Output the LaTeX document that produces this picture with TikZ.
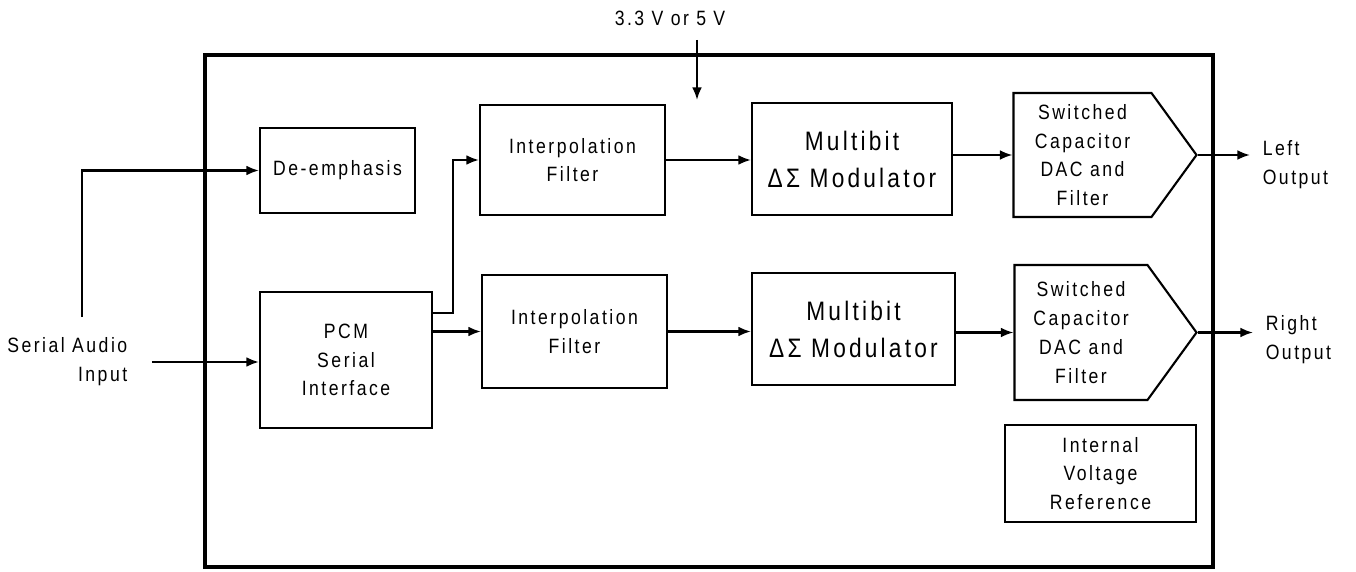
\documentclass[tikz,border=0pt]{standalone}
\usepackage{fontspec}
\setmainfont{Liberation Sans}[FakeStretch=0.85,LetterSpace=12]
\usetikzlibrary{arrows.meta,shapes.symbols}

\begin{document}
\begin{tikzpicture}[
    line width=0.6pt,
    font=\fontsize{5.9}{8.2}\selectfont,
    blockbox/.style={draw, align=center, inner sep=1pt},
    modbox/.style={blockbox, font=\fontsize{7.6}{10.5}\selectfont},
    dacbox/.style={draw, signal, signal to=east, signal pointer angle=108, align=center, inner sep=1pt},
    sig/.style={-{Latex[length=3.6pt,width=2.8pt]}}
]

    % Canvas
    \useasboundingbox (0,0) rectangle (13.56,5.71);

    % Chip Outline
    \draw[line width=0.9pt] (2.05,0.04) rectangle (12.13,5.16);

    % Supply
    \node (supply) at (6.70,5.53) {3.3 V or 5 V};
    \coordinate (vddtop) at (6.97,5.31);
    \coordinate (vddend) at (6.97,4.71);
    \draw[sig] (vddtop) -- (vddend);

    % Left Channel
    \node[blockbox, minimum width=1.55cm, minimum height=0.85cm] (deemph) at (3.375,4.005) {De-emphasis};
    \node[blockbox, minimum width=1.85cm, minimum height=1.10cm] (interpL) at (5.725,4.11) {Interpolation\\Filter};
    \node[modbox, minimum width=2.00cm, minimum height=1.12cm] (modL) at (8.52,4.12) {Multibit\\ΔΣ Modulator};
    \node[dacbox, minimum width=1.83cm, minimum height=1.24cm] (dacL) at (10.825,4.16) {Switched\\Capacitor\\DAC and\\Filter};
    \node[anchor=west, align=left] (outL) at (12.50,4.06) {Left\\Output};

    % Right Channel
    \node[blockbox, minimum width=1.72cm, minimum height=1.36cm] (pcm) at (3.46,2.11) {PCM\\Serial\\Interface};
    \node[blockbox, minimum width=1.85cm, minimum height=1.13cm] (interpR) at (5.745,2.395) {Interpolation\\Filter};
    \node[modbox, minimum width=2.03cm, minimum height=1.12cm] (modR) at (8.535,2.42) {Multibit\\ΔΣ Modulator};
    \node[dacbox, minimum width=1.82cm, minimum height=1.35cm] (dacR) at (10.81,2.385) {Switched\\Capacitor\\DAC and\\Filter};
    \node[anchor=west, align=left] (outR) at (12.53,2.31) {Right\\Output};

    % Reference
    \node[blockbox, minimum width=1.91cm, minimum height=0.97cm] (vref) at (11.005,0.975) {Internal\\Voltage\\Reference};

    % Input
    \node[anchor=east, align=right] (input) at (1.40,2.09) {Serial Audio\\Input};

    % Signal Paths
    \draw[sig] ([xshift=0.15cm,yshift=0.08cm]input.north) |- (deemph.west);
    \draw[sig] ([xshift=0.12cm]input.east) -- (input.east -| pcm.west);
    \draw[sig] ([yshift=0.47cm]pcm.east) -- ++(0.2,0) |- (interpL.west);
    \draw[sig] (pcm.east |- interpR.west) -- (interpR.west);
    \draw[sig] (interpL.east) -- (interpL.east -| modL.west);
    \draw[sig] (interpR.east) -- (interpR.east -| modR.west);
    \draw[sig] (modL.east |- dacL.west) -- (dacL.west);
    \draw[sig] (modR.east |- dacR.west) -- (dacR.west);
    \draw[sig] (dacL.east) -- (outL.west |- dacL.east);
    \draw[sig] (dacR.east) -- (outR.west |- dacR.east);

\end{tikzpicture}
\end{document}
